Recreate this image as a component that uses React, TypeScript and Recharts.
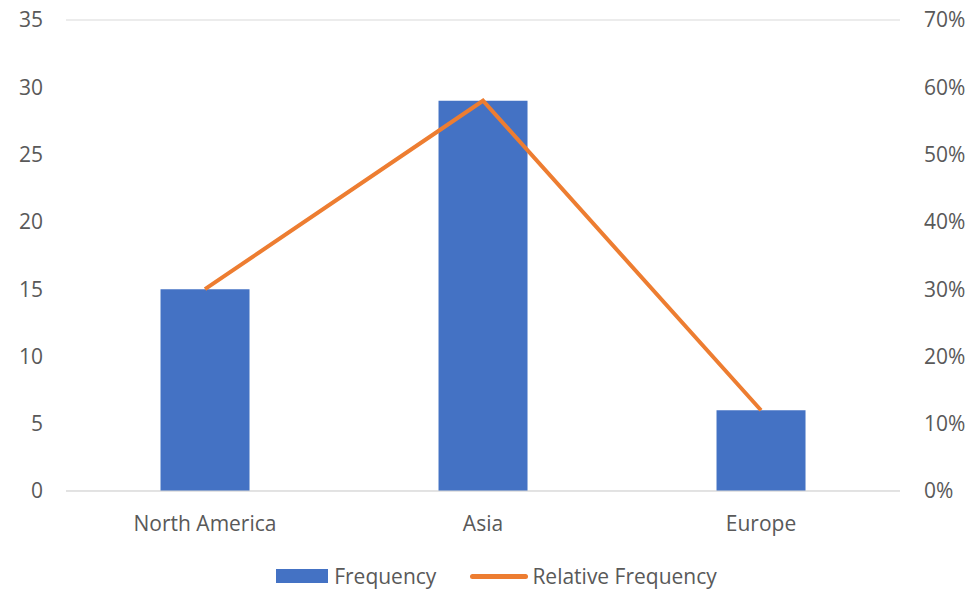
import React from "react";
import {
  Bar,
  CartesianGrid,
  ComposedChart,
  Legend,
  Line,
  XAxis,
  YAxis,
} from "recharts";

const regions = ["North America", "Asia", "Europe"];
const frequency = [15, 29, 6];
const relativeFrequency = [0.3, 0.58, 0.12];
const leftTicks = [0, 5, 10, 15, 20, 25, 30, 35];
const rightTicks = [0, 0.1, 0.2, 0.3, 0.4, 0.5, 0.6, 0.7];

const chartData = regions.map((region, i) => ({
  region,
  frequency: frequency[i],
  relative: relativeFrequency[i],
}));

const FONT = "'Open Sans', sans-serif";
const TEXT = "#595959";
const BLUE = "#4472C4";
const ORANGE = "#ED7D31";
const FS = 21;

const ChartLegend = () => (
  <div
    style={{
      height: 30,
      display: "flex",
      justifyContent: "center",
      alignItems: "center",
      fontFamily: FONT,
      fontSize: FS,
      color: TEXT,
      paddingTop: 2,
      paddingLeft: 22,
      boxSizing: "border-box",
    }}
  >
    <span style={{ display: "inline-block", width: 52, height: 14, background: BLUE, marginRight: 6 }} />
    <span style={{ marginRight: 34 }}>Frequency</span>
    <span style={{ display: "inline-block", width: 58, height: 5, borderRadius: 3, background: ORANGE, marginRight: 4 }} />
    <span>Relative Frequency</span>
  </div>
);

export default function App() {
  return (
    <div style={{ position: "absolute", left: 0, top: 0, background: "#fff" }}>
      <ComposedChart
        width={971}
        height={590}
        data={chartData}
        margin={{ top: 20, right: 0, left: 0, bottom: 0 }}
        barCategoryGap="34%"
      >
        <CartesianGrid vertical={false} stroke="#D9D9D9" strokeWidth={1} />
        <XAxis
          dataKey="region"
          height={69}
          tickLine={false}
          tickSize={0}
          tickMargin={25}
          axisLine={{ stroke: "#D9D9D9" }}
          tick={{ fill: TEXT, fontSize: FS, fontFamily: FONT }}
        />
        <YAxis
          yAxisId="left"
          width={66}
          domain={[0, 35]}
          ticks={leftTicks}
          tickLine={false}
          tickSize={0}
          tickMargin={23}
          axisLine={false}
          tick={{ fill: TEXT, fontSize: FS, fontFamily: FONT }}
        />
        <YAxis
          yAxisId="right"
          orientation="right"
          width={71}
          domain={[0, 0.7]}
          ticks={rightTicks}
          tickFormatter={(v: number) => `${Math.round(v * 100)}%`}
          tickLine={false}
          tickSize={0}
          tickMargin={24}
          axisLine={false}
          tick={{ fill: TEXT, fontSize: FS, fontFamily: FONT }}
        />
        <Bar
          yAxisId="left"
          dataKey="frequency"
          name="Frequency"
          fill={BLUE}
          isAnimationActive={false}
        />
        <Line
          yAxisId="right"
          dataKey="relative"
          name="Relative Frequency"
          type="linear"
          stroke={ORANGE}
          strokeWidth={4}
          dot={false}
          activeDot={false}
          isAnimationActive={false}
        />
        <Legend verticalAlign="bottom" content={<ChartLegend />} />
      </ComposedChart>
    </div>
  );
}
